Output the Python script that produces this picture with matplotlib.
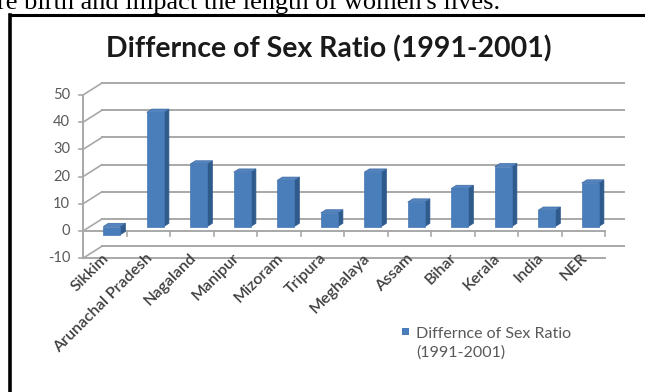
import matplotlib
matplotlib.use("Agg")
import matplotlib.pyplot as plt
from matplotlib.patches import Polygon, Rectangle

# ---------------- data ----------------
categories = ["Sikkim", "Arunachal Pradesh", "Nagaland", "Manipur", "Mizoram",
              "Tripura", "Meghalaya", "Assam", "Bihar", "Kerala", "India", "NER"]
values = [-3, 42, 23, 20, 17, 5, 20, 9, 14, 22, 6, 16]
y_ticks = [-10, 0, 10, 20, 30, 40, 50]
title = "Differnce of Sex Ratio (1991-2001)"
legend_label = "Differnce of Sex Ratio\n(1991-2001)"
page_text = "re birth and impact the length of women's lives."

# ---------------- layout (pixel based) ----------------
W, H = 645, 392
X0PX, Y0PX = 83.0, 231.0        # front-left corner of category axis / zero level
CATPX, UNITPX = 43.5, 2.72       # px per category, px per value unit

def X(px):
    return (px - X0PX) / CATPX

def Y(py):
    return (Y0PX - py) / UNITPX

DX = 19 / CATPX       # full depth offset (x, data units)
DY = 12 / UNITPX      # full depth offset (y, data units)
F0, FD = 0.37, 0.27   # bar front depth fraction, bar depth fraction
BAR_W = 17 / CATPX
n = len(categories)

fig = plt.figure(figsize=(W / 100, H / 100), dpi=100)
ax = fig.add_axes([0, 0, 1, 1])
ax.set_xlim(X(0), X(W))
ax.set_ylim(Y(H), Y(0))
ax.axis("off")

grid_c = "#A8A8A8"
ymin, ymax = y_ticks[0], y_ticks[-1]

# back wall gridlines and left wall diagonals
for v in y_ticks:
    ax.plot([DX, n + DX], [v + DY, v + DY], color=grid_c, lw=1.4, zorder=1)
    ax.plot([0, DX], [v, v + DY], color=grid_c, lw=1.2, zorder=1)
    ax.plot([-4 / CATPX, 0], [v, v], color=grid_c, lw=1.2, zorder=1)
    ax.text(X(70), v, str(v), ha="right", va="center", fontsize=10.5,
            color="#595959", family="Lato")

# front vertical axis
ax.plot([0, 0], [ymin, ymax], color=grid_c, lw=1.4, zorder=1)
# floor front edge at min
ax.plot([0, n], [ymin, ymin], color=grid_c, lw=1.4, zorder=1)
# category axis at zero
ax.plot([0, n], [0, 0], color=grid_c, lw=1.4, zorder=1)
for i in range(1, n + 1):
    ax.plot([i, i], [0, -5 / UNITPX], color=grid_c, lw=1.2, zorder=1)

# bars
front_c, side_c, top_c = "#4A7EBB", "#2F5A8C", "#5585C0"
for i, v in enumerate(values):
    x0 = i + 0.5 - BAR_W / 2 + F0 * DX
    x1 = x0 + BAR_W
    b = F0 * DY
    lo, hi = min(0, v) + b, max(0, v) + b
    ddx, ddy = FD * DX, FD * DY
    ax.add_patch(Polygon([[x1, lo], [x1 + ddx, lo + ddy], [x1 + ddx, hi + ddy], [x1, hi]],
                         closed=True, facecolor=side_c, edgecolor=side_c, lw=0.5, zorder=3))
    ax.add_patch(Polygon([[x0, hi], [x1, hi], [x1 + ddx, hi + ddy], [x0 + ddx, hi + ddy]],
                         closed=True, facecolor=top_c, edgecolor="#3E6AA3", lw=0.5, zorder=3))
    ax.add_patch(Rectangle((x0, lo), BAR_W, hi - lo, facecolor=front_c,
                           edgecolor="#4677B3", lw=0.5, zorder=4))
    ax.text(i + 0.5 + 7 / CATPX, Y(251), categories[i], rotation=45, ha="right", va="top",
            fontsize=11.5, color="#3F3F3F", family="Lato", fontweight="semibold")

# legend
ax.add_patch(Rectangle((X(402), Y(335)), 7 / CATPX, 7 / UNITPX, facecolor=front_c,
                       edgecolor="none", zorder=4))
ax.text(X(416), Y(327), legend_label, ha="left", va="top", fontsize=11.5,
        color="#595959", family="Lato", linespacing=1.4)

# title
fig.text(329 / W, 1 - 49 / H, title, ha="center", va="center", fontsize=20.5,
         fontweight="bold", color="#1A1A1A", family="Lato")

# page text (cut off at the top edge, as in the source screenshot) and chart frame
fig.text(-3 / W, 1 - 9 / H, page_text, ha="left", va="baseline", fontsize=19,
         color="black", family="Liberation Serif")
fig.add_artist(plt.Line2D([10 / W, 1], [1 - 15 / H, 1 - 15 / H], color="black",
                          lw=2.2, transform=fig.transFigure))
fig.add_artist(plt.Line2D([10 / W, 10 / W], [0, 1 - 15 / H], color="black",
                          lw=2.6, transform=fig.transFigure))

fig.savefig("out.png", dpi=100)
